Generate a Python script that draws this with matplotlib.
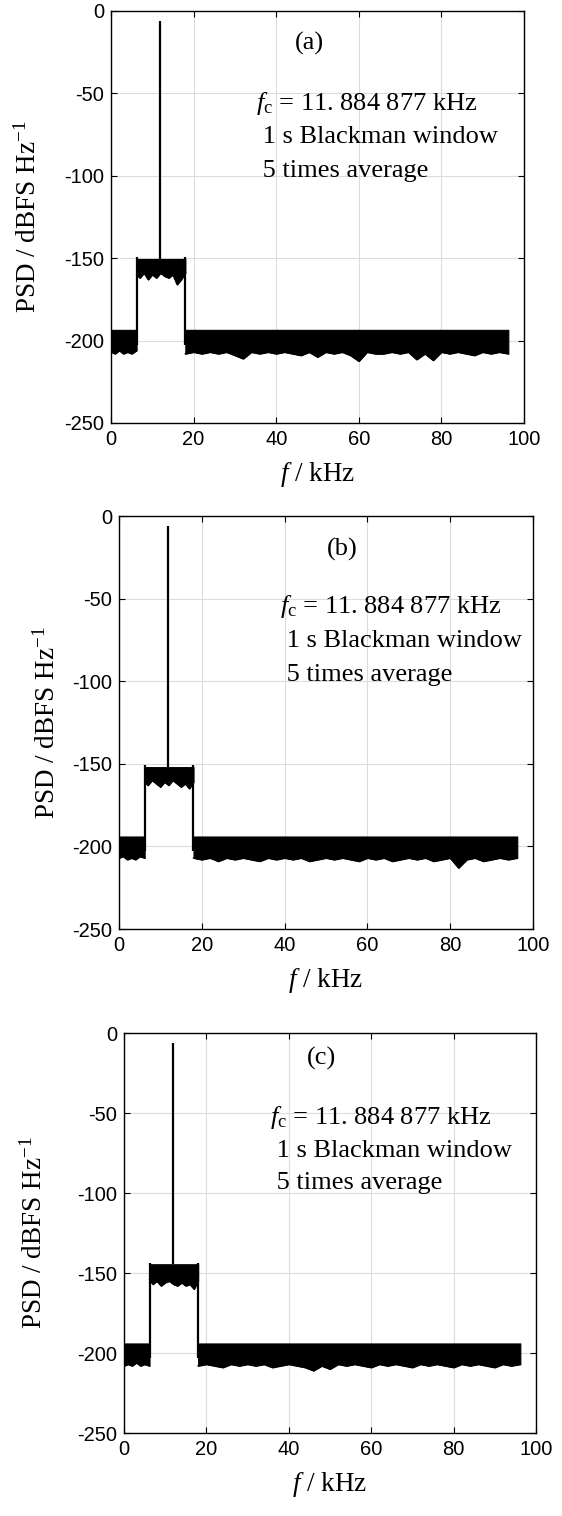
import matplotlib
matplotlib.use("Agg")
import matplotlib.pyplot as plt

plt.rcParams['mathtext.fontset'] = 'custom'
plt.rcParams['mathtext.rm'] = 'Liberation Serif'
plt.rcParams['mathtext.it'] = 'Liberation Serif:italic'
plt.rcParams['axes.unicode_minus'] = False

# common axis settings
x_ticks = [0, 20, 40, 60, 80, 100]
y_ticks = [0, -50, -100, -150, -200, -250]
panel_tags = ['(a)', '(b)', '(c)']
note_lines = [r'$f_{\mathrm{c}}$ = 11. 884 877 kHz', ' 1 s Blackman window', ' 5 times average']

# band edges in kHz: start, band start, band end, end of data
edges_a = [0.0, 6.2, 18.0, 96.2]
edges_b = [0.0, 6.2, 18.0, 96.2]
edges_c = [0.0, 6.2, 18.0, 96.2]

tone_f = 11.88
peak_a = -6
peak_b = -6
peak_c = -6

# upper envelopes (dBFS/Hz): floor, band
floor_top = [-193.5, -194.0, -194.0]
band_top = [-150.5, -152.0, -144.5]

# lower envelope of the left floor piece (0..6 kHz, 1 kHz steps)
left_f = [0, 1, 2, 3, 4, 5, 6]
left_lo_a = [-207, -208, -206, -208, -207, -208, -206]
left_lo_b = [-207, -206, -208, -207, -208, -206, -207]
left_lo_c = [-208, -207, -208, -206, -208, -207, -208]

# lower envelope of the in-band noise (1 kHz steps)
band_f = [6.2, 7, 8, 9, 10, 11, 12, 13, 14, 15, 16, 17, 18.0]
band_lo_a = [-160, -162, -159, -163, -160, -162, -159, -161, -162, -160, -166, -163, -159]
band_lo_b = [-161, -163, -160, -162, -164, -161, -163, -160, -162, -164, -162, -165, -161]
band_lo_c = [-154, -157, -155, -158, -156, -155, -157, -158, -156, -158, -157, -160, -155]

# lower envelope of the main floor (2 kHz steps)
floor_f = [18, 20, 22, 24, 26, 28, 30, 32, 34, 36, 38, 40, 42, 44, 46, 48, 50, 52, 54, 56,
           58, 60, 62, 64, 66, 68, 70, 72, 74, 76, 78, 80, 82, 84, 86, 88, 90, 92, 94, 96.2]
floor_lo_a = [-208, -207, -208, -207, -208, -207, -209, -211, -207, -208, -207, -208, -207, -208,
              -209, -207, -210, -207, -208, -207, -209, -212.5, -207, -208, -208, -207, -208,
              -207, -211.5, -208, -212, -207, -208, -207, -208, -209, -207, -208, -207, -208]
floor_lo_b = [-207, -208, -207, -209, -207, -208, -207, -208, -209, -207, -208, -207, -208, -207,
              -209, -208, -207, -208, -207, -208, -209, -207, -208, -207, -209, -208, -207,
              -208, -207, -209, -208, -207, -213, -208, -207, -209, -208, -207, -208, -207]
floor_lo_c = [-208, -207, -208, -209, -207, -208, -207, -208, -207, -209, -208, -207, -208, -209,
              -211, -208, -210, -207, -208, -207, -208, -209, -207, -208, -207, -208, -209,
              -207, -208, -207, -208, -209, -207, -208, -207, -208, -209, -207, -208, -207]

# axes boxes in figure fraction
boxes = [[0.1975, 0.7210, 0.7349, 0.2718],
         [0.2117, 0.3872, 0.7367, 0.2724],
         [0.2206, 0.0547, 0.7331, 0.2639]]
tag_pos = [(48, -20), (54, -20), (48, -16)]
note_pos = [(35.0, -56), (39.0, -55), (35.5, -53)]
ylabel_x = [-0.168, -0.142, -0.186]


def draw_psd(ax, edges, peak, ftop, btop, left_lo, band_lo, floor_lo):
    k = 'black'
    ax.fill_between(left_f[:-1] + [edges[1]], [ftop] * len(left_f), left_lo, color=k, lw=0.8)
    ax.plot(left_f[:-1] + [edges[1]], left_lo, color=k, lw=1.0)
    ax.fill_between(band_f, [btop] * len(band_f), band_lo, color=k, lw=0.8)
    ax.plot(band_f, band_lo, color=k, lw=1.0)
    ax.fill_between(floor_f, [ftop] * len(floor_f), floor_lo, color=k, lw=0.8)
    ax.plot(floor_f, floor_lo, color=k, lw=1.0)
    ax.vlines([edges[1], edges[2]], -203, btop + 1, color=k, lw=1.6)
    ax.vlines(tone_f, btop, peak, color=k, lw=1.6)


def style_axes(ax, i):
    ax.set_xlim(0, 100)
    ax.set_ylim(-250, 0)
    ax.set_xticks(x_ticks)
    ax.set_yticks(y_ticks)
    ax.grid(True, color='#dcdcdc', lw=0.8)
    ax.set_axisbelow(True)
    ax.tick_params(direction='in', top=True, right=True, length=4, width=0.8,
                   labelsize=14.5, pad=5)
    for lab in ax.get_xticklabels() + ax.get_yticklabels():
        lab.set_family('Liberation Sans')
    for s in ax.spines.values():
        s.set_linewidth(1.0)
    ax.set_xlabel(r'$f$ / kHz', family='Liberation Serif', fontsize=19.5, labelpad=8)
    ax.set_ylabel(r'PSD / dBFS Hz$^{-1}$', family='Liberation Serif', fontsize=19.5)
    ax.yaxis.set_label_coords(ylabel_x[i], 0.5)
    tx, ty = tag_pos[i]
    ax.text(tx, ty, panel_tags[i], family='Liberation Serif', fontsize=19,
            ha='center', va='center')
    nx, ny = note_pos[i]
    for j, line in enumerate(note_lines):
        ax.text(nx, ny - 20.5 * j, line, family='Liberation Serif', fontsize=19,
                ha='left', va='center')


fig = plt.figure(figsize=(5.62, 15.16), dpi=100)
panels = [
    (edges_a, peak_a, left_lo_a, band_lo_a, floor_lo_a),
    (edges_b, peak_b, left_lo_b, band_lo_b, floor_lo_b),
    (edges_c, peak_c, left_lo_c, band_lo_c, floor_lo_c),
]
for i, (edges, peak, llo, blo, flo) in enumerate(panels):
    ax = fig.add_axes(boxes[i])
    draw_psd(ax, edges, peak, floor_top[i], band_top[i], llo, blo, flo)
    style_axes(ax, i)

fig.savefig('out.png', dpi=100)
